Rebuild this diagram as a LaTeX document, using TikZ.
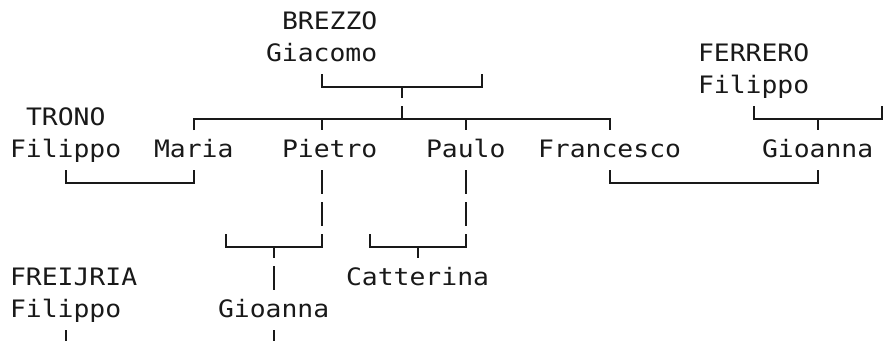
\documentclass[tikz,border=0pt]{standalone}
\usepackage{fontspec}
\newfontfamily\monofam[FakeStretch=1.1]{DejaVu Sans Mono}
\begin{document}
\begin{tikzpicture}[x=1pt,y=-1pt,
  nm/.style={anchor=base west, inner sep=0pt, outer sep=0pt,
    font=\monofam\fontsize{24}{24}\selectfont, text=black!90},
  ln/.style={line width=2.1pt, draw=black!90}]
\useasboundingbox (0,0) rectangle (883,341);
\fill[white] (0,0) rectangle (883,341);
% ---------- names (column c -> x = 10+16c ; row r -> baseline 29+32r)
\node[nm] (brezzo)   at (282,29)  {BREZZO};
\node[nm] (giacomo)  at (266,61)  {Giacomo};
\node[nm] (ferrero)  at (698,61)  {FERRERO};
\node[nm] (filippoF) at (698,93)  {Filippo};
\node[nm] (trono)    at (26,125)  {TRONO};
\node[nm] (filippoT) at (10,157)  {Filippo};
\node[nm] (maria)    at (154,157) {Maria};
\node[nm] (pietro)   at (282,157) {Pietro};
\node[nm] (paulo)    at (426,157) {Paulo};
\node[nm] (francesco) at (538,157) {Francesco};
\node[nm] (gioannaA) at (762,157) {Gioanna};
\node[nm] (freijria) at (10,285)  {FREIJRIA};
\node[nm] (filippoR) at (10,317)  {Filippo};
\node[nm] (catterina) at (346,285) {Catterina};
\node[nm] (gioannaB) at (218,317) {Gioanna};
% ---------- connector points (column c -> x = 18+16c ; row r top 10+32r)
\coordinate (gL) at (322,74);  \coordinate (gR) at (482,74);
\coordinate (gM) at (402,87);
\coordinate (kL) at (194,130); \coordinate (kR) at (610,130);
\coordinate (kM) at (402,106);
\coordinate (fL) at (754,106); \coordinate (fR) at (882,106);
\coordinate (fM) at (818,119);
\coordinate (tL) at (66,170);  \coordinate (tR) at (194,170);
\coordinate (cL) at (610,170); \coordinate (cR) at (818,170);
\coordinate (pL) at (226,234); \coordinate (pR) at (322,234);
\coordinate (pM) at (274,247);
\coordinate (qL) at (370,234); \coordinate (qR) at (466,234);
\coordinate (qM) at (418,247);
% ---------- connectors
\draw[ln] (gL) |- (gR |- gM) -- (gR);
\draw[ln] (gM) -- ++(0,11);
\draw[ln] (kM) -- ++(0,13);
\draw[ln] (kL) |- (kR |- 0,119) -- (kR);
\draw[ln] (322,119) -- (322,130);
\draw[ln] (466,119) -- (466,130);
\draw[ln] (fL) |- (fR |- fM) -- (fR);
\draw[ln] (fM) -- ++(0,11);
\draw[ln] (tL) |- (tR |- 0,183) -- (tR);
\draw[ln] (cL) |- (cR |- 0,183) -- (cR);
\draw[ln] (322,170) -- (322,194);
\draw[ln] (322,202) -- (322,226);
\draw[ln] (pL) |- (pR |- pM) -- (pR);
\draw[ln] (pM) -- ++(0,11);
\draw[ln] (274,266) -- (274,290);
\draw[ln] (466,170) -- (466,194);
\draw[ln] (466,202) -- (466,226);
\draw[ln] (qL) |- (qR |- qM) -- (qR);
\draw[ln] (qM) -- ++(0,11);
\draw[ln] (66,330) -- (66,341);
\draw[ln] (274,330) -- (274,341);
\end{tikzpicture}
\end{document}
